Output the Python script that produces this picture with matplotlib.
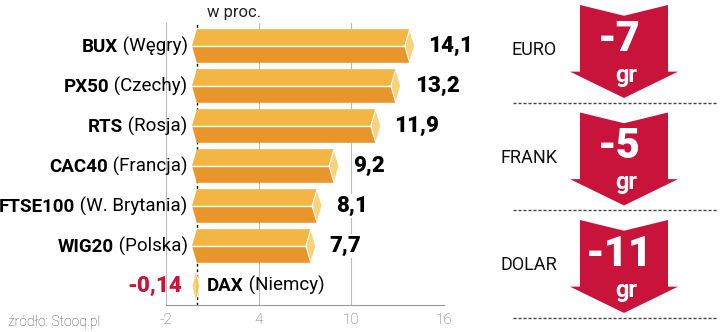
import numpy as np
import matplotlib.pyplot as plt
from matplotlib.patches import Polygon

plt.rcParams['font.family'] = ['Roboto', 'DejaVu Sans']

# zmiana indeksów giełdowych, w proc.
indeksy = ['BUX', 'PX50', 'RTS', 'CAC40', 'FTSE100', 'WIG20', 'DAX']
kraje = ['(Węgry)', '(Czechy)', '(Rosja)', '(Francja)', '(W. Brytania)', '(Polska)', '(Niemcy)']
zmiana = [14.1, 13.2, 11.9, 9.2, 8.1, 7.7, -0.14]
os_x = [-2, 4, 10, 16]

# zmiana kursów walut, w groszach
waluty = ['EURO', 'FRANK', 'DOLAR']
spadek = [-7, -5, -11]

jasny = '#F3B645'
ciemny = '#E8962C'
fasetka = '#F8D27C'
czerwony = '#C8133B'


def liczba(v):
    return ('%g' % v).replace('.', ',')


fig = plt.figure(figsize=(7.2, 3.32), dpi=100)

# --- wykres słupkowy ---
ax = fig.add_axes([166 / 720, 27 / 332, 278 / 720, 282 / 332])
ax.set_xlim(os_x[0], os_x[-1])
ax.set_ylim(len(indeksy) - 0.525, -0.575)

for g in os_x:
    ax.axvline(g, color='#BBBBBB', lw=0.8, zorder=0)
ax.axvline(0, color='k', lw=1, ls=(0, (2, 2)), zorder=0.5)

d = 0.32   # głębokość ściętych końców słupka
h = 0.42   # połowa wysokości słupka
for i, v in enumerate(zmiana):
    if v > 0:
        gora = [(-d, i), (0, i - h), (v - d, i - h), (v - 2 * d, i)]
        dol = [(-d, i), (v - 2 * d, i), (v - d, i + h), (0, i + h)]
        bok = [(v - d, i - h), (v, i), (v - d, i + h), (v - 2 * d, i)]
        ax.add_patch(Polygon(gora, closed=True, fc=jasny, ec='none', zorder=2))
        ax.add_patch(Polygon(dol, closed=True, fc=ciemny, ec='none', zorder=2))
        ax.add_patch(Polygon(bok, closed=True, fc=fasetka, ec='white', lw=0.8, zorder=3))
        ax.plot([-d, v - 2 * d], [i, i], color='white', lw=1, zorder=3)

        ax.annotate(liczba(v), (v, i), xytext=(10, 0), textcoords='offset points',
                    ha='left', va='center', fontsize=16, fontweight='heavy',
                    bbox=dict(fc='white', ec='none', pad=0.5), zorder=4)
        reg = ax.text(-0.6, i, ' ' + kraje[i], ha='right', va='center', fontsize=13.5)
        ax.annotate(indeksy[i], xy=(0, 0), xycoords=reg, ha='right', va='bottom',
                    fontsize=13.5, fontweight='bold')
    else:
        c = v / 2
        w = 0.24
        ax.add_patch(Polygon([(c - w, i), (c, i - h * 0.95), (c, i + h * 0.95)],
                             closed=True, fc=fasetka, ec='none', zorder=3))
        ax.add_patch(Polygon([(c, i - h * 0.95), (c + w, i), (c, i + h * 0.95)],
                             closed=True, fc='#F5C458', ec='none', zorder=3))
        ax.add_patch(Polygon([(c - w, i), (c, i - h * 0.95), (c + w, i), (c, i + h * 0.95)],
                             closed=True, fc='none', ec='white', lw=0.6, zorder=3))
        ax.text(-0.96, i, liczba(v), ha='right', va='center', fontsize=16,
                fontweight='heavy', color=czerwony)
        b = ax.text(0.65, i, indeksy[i], ha='left', va='center', fontsize=13.5,
                    fontweight='bold')
        ax.annotate(' ' + kraje[i], xy=(1, 0), xycoords=b, ha='left', va='bottom',
                    fontsize=13.5)

ax.text(0.65, -0.85, 'w proc.', ha='left', va='center', fontsize=12, color='#222222')

ax.set_xticks(os_x)
ax.set_xticklabels([str(t) for t in os_x], fontsize=11, fontweight='light', color='#666666')
ax.set_yticks([])
ax.tick_params(axis='x', length=0, pad=6)
for s in ['top', 'left', 'right']:
    ax.spines[s].set_visible(False)
ax.spines['bottom'].set_color('#999999')
ax.spines['bottom'].set_linewidth(0.8)
ax.patch.set_alpha(0)

fig.text(8 / 720, 1 - 322 / 332, 'źródło: Stooq.pl', ha='left', va='center',
         fontsize=10, fontweight='light', color='#444444')

# --- strzałki walut ---
ax2 = fig.add_axes([470 / 720, 0, 250 / 720, 1])
ax2.set_xlim(470, 720)
ax2.set_ylim(3.042, -0.0465)
ax2.axis('off')

cx = 624
for i, (nazwa, s) in enumerate(zip(waluty, spadek)):
    strzalka = [(cx - 44, i), (cx, i + 0.10), (cx + 44, i), (cx + 44, i + 0.62),
                (cx + 54, i + 0.62), (cx, i + 0.865), (cx - 54, i + 0.62),
                (cx - 44, i + 0.62)]
    ax2.add_patch(Polygon(strzalka, closed=True, fc=czerwony, ec='none'))
    ax2.text(cx - 5, i + 0.32, str(s), ha='center', va='center', fontsize=30,
             fontweight='heavy', color='white')
    ax2.text(cx + 2, i + 0.716, 'gr', ha='center', va='baseline', fontsize=17,
             fontweight='bold', color='white')
    ax2.text(557, i + 0.42, nazwa, ha='right', va='center', fontsize=13, color='#111111')
    ax2.plot([513, 718], [i + 0.91, i + 0.91], color='#444444', lw=1, ls=(0, (2.2, 1.4)))

fig.savefig('out.png', dpi=100)
